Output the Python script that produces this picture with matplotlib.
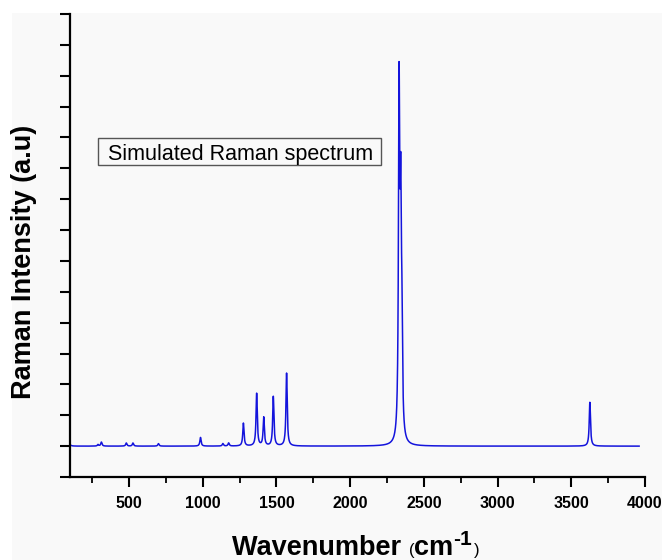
import numpy as np
import matplotlib
matplotlib.use("Agg")
import matplotlib.pyplot as plt
from matplotlib.ticker import MultipleLocator
from matplotlib.patches import Rectangle

# Peak list (wavenumber, intensity)
peak_pos = [92, 290, 313, 482, 527, 700, 985, 1137, 1176, 1276, 1366, 1414,
            1479, 1569, 2332, 2343, 2351, 3626]
peak_int = [120, 25, 65, 50, 50, 40, 140, 40, 50, 370, 850, 460,
            800, 1180, 5550, 3400, 1500, 710]
fwhm = 10.0
x_tick_labels = ['500', '1000', '1500', '2000', '2500', '3000', '3500', '4000']

plt.rcParams['font.family'] = ['Liberation Sans', 'DejaVu Sans']

W, H = 662, 560
x = np.arange(60, 3961, 1.0)
y = np.zeros_like(x)
g = fwhm / 2
for p, a in zip(peak_pos, peak_int):
    y += a * g**2 / ((x - p)**2 + g**2)

fig = plt.figure(figsize=(W/100, H/100), dpi=100)
fig.patch.set_facecolor('white')
fig.patches.append(Rectangle((12/W, 0), 1, 1 - 13/H, transform=fig.transFigure,
                             fc='#f9f9f9', ec='none', zorder=-10))

def fx(px):
    return px / W

def fy(py):
    return 1 - py / H

ax = fig.add_axes([fx(70), fy(477), (645-70)/W, (477-14)/H])
ax.set_facecolor('none')
ax.plot(x, y, color='#1414dc', lw=1.1)
ax.set_xlim(100, 4000)
ax.set_ylim(-500, 7000)
ax.set_xticks([float(t) for t in x_tick_labels])
ax.set_xticklabels(x_tick_labels)
ax.xaxis.set_minor_locator(MultipleLocator(250))
ax.yaxis.set_major_locator(MultipleLocator(500))
ax.set_yticklabels([])
for s in ['top', 'right']:
    ax.spines[s].set_visible(False)
for s in ['left', 'bottom']:
    ax.spines[s].set_linewidth(1.6)
ax.tick_params(axis='both', which='major', length=7, width=1.5, direction='out')
ax.tick_params(axis='x', which='minor', length=4, width=1.3, direction='out')
ax.tick_params(axis='x', labelsize=11.5, pad=6.5)
for lab in ax.get_xticklabels():
    lab.set_fontweight('bold')

# y label
fig.text(fx(24), fy(262), "Raman Intensity (a.u)", rotation=90, fontsize=19.5,
         fontweight='bold', ha='center', va='center')

# x label built from pieces
renderer = fig.canvas.get_renderer()
cur = 232.0
pieces = [("Wavenumber ", dict(fontsize=19.5, fontweight='bold'), 0),
          ("(", dict(fontsize=12), 0),
          ("cm", dict(fontsize=19.5, fontweight='bold'), 0),
          ("-1", dict(fontsize=15, fontweight='bold'), 10),
          (")", dict(fontsize=12), 0)]
for txt, kw, raise_px in pieces:
    t = fig.text(fx(cur), fy(555 - raise_px), txt, ha='left', va='baseline', **kw)
    bb = t.get_window_extent(renderer=renderer)
    cur += bb.width + (2 if txt == "-1" else 0)

# annotation box
fig.text(fx(108), fy(160), "Simulated Raman spectrum", fontsize=15.5,
         ha='left', va='baseline')
fig.patches.append(Rectangle((fx(97.5), fy(165)), (381 - 97.5)/W, (165 - 138)/H,
                             transform=fig.transFigure, fc='none', ec='#555555',
                             lw=1.0))

fig.savefig("out.png", dpi=100, facecolor=fig.get_facecolor())
